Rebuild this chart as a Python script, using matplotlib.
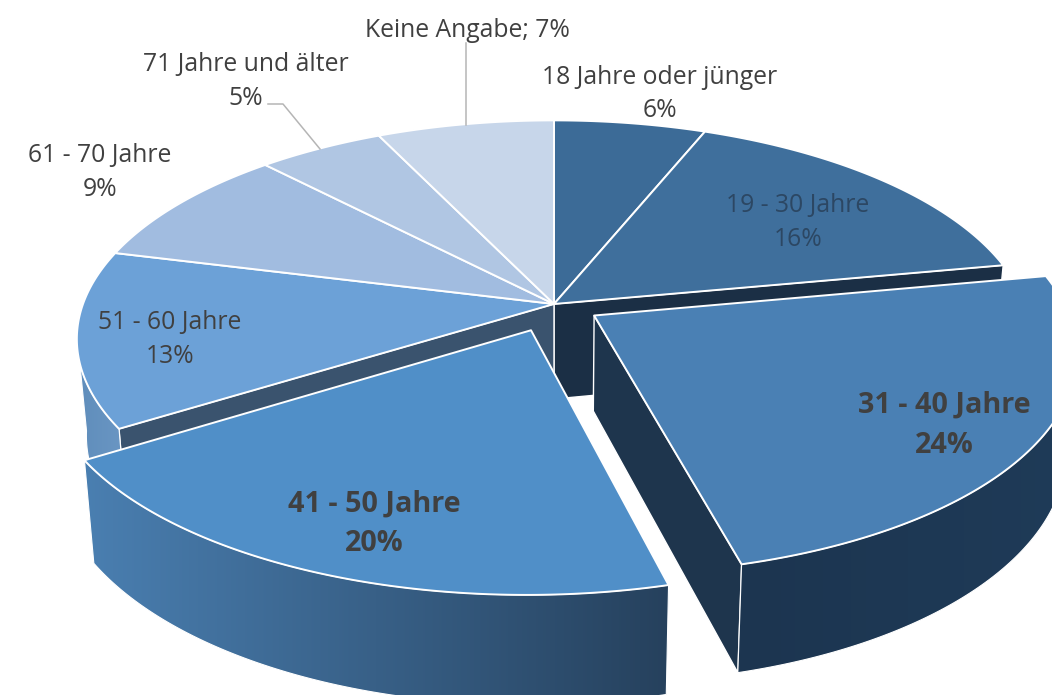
import numpy as np
import matplotlib
matplotlib.use("Agg")
import matplotlib.pyplot as plt
from matplotlib.patches import Polygon
from matplotlib.colors import to_rgb

categories = ["18 Jahre oder jünger", "19 - 30 Jahre", "31 - 40 Jahre", "41 - 50 Jahre",
              "51 - 60 Jahre", "61 - 70 Jahre", "71 Jahre und älter", "Keine Angabe"]
percent = [6, 16, 24, 20, 13, 9, 5, 7]
explode = [0, 0, 0.10, 0.13, 0, 0, 0, 0]
top_colors = ["#3c6b97", "#3f6f9c", "#4a80b4", "#508fc8", "#6ca1d7", "#a1bce0", "#b0c6e3", "#c7d6ea"]

CX, CY, RX, RY, PERSP, DEPTH, SHRINK = 554, 304, 471, 213, 0.16, 95, 0.98
TEXT = "#404040"

fig = plt.figure(figsize=(10.52, 6.95), dpi=100)
ax = fig.add_axes([0, 0, 1, 1])
ax.set_xlim(0, 1052)
ax.set_ylim(695, 0)
ax.axis("off")

edges = np.concatenate([[0], np.cumsum(percent)]) * 3.6


def offset(i):
    mid = np.radians((edges[i] + edges[i + 1]) / 2)
    return explode[i] * np.sin(mid), explode[i] * np.cos(mid)


def project(X, Y, bottom=False):
    X, Y = np.asarray(X, float), np.asarray(Y, float)
    w = 1 + PERSP * Y
    x, y = RX * X / w, -RY * Y / w
    if bottom:
        return CX + SHRINK * x, CY + SHRINK * y + DEPTH / w
    return CX + x, CY + y


def rim(i, a0, a1, n=120):
    t = np.radians(np.linspace(a0, a1, n))
    ox, oy = offset(i)
    return np.sin(t) + ox, np.cos(t) + oy


def top_face(i, z):
    X, Y = rim(i, edges[i], edges[i + 1])
    ox, oy = offset(i)
    px, py = project(np.r_[ox, X], np.r_[oy, Y])
    ax.add_patch(Polygon(np.c_[px, py], closed=True, fc=top_colors[i], ec="white", lw=1.4,
                         joinstyle="round", zorder=z))


def inner_wall(i, angle, color, z):
    ox, oy = offset(i)
    t = np.radians(angle)
    X, Y = np.array([ox, np.sin(t) + ox]), np.array([oy, np.cos(t) + oy])
    xt, yt = project(X, Y)
    xb, yb = project(X, Y, bottom=True)
    pts = np.c_[np.r_[xt, xb[::-1]], np.r_[yt, yb[::-1]]]
    ax.add_patch(Polygon(pts, closed=True, fc=color, ec="white", lw=1.0, zorder=z))


def outer_wall(i, a0, a1, c_left, c_right, z, n=90):
    X, Y = rim(i, a0, a1, n + 1)
    xt, yt = project(X, Y)
    xb, yb = project(X, Y, bottom=True)
    pts = np.c_[np.r_[xt, xb[::-1]], np.r_[yt, yb[::-1]]]
    x0, x1 = pts[:, 0].min(), pts[:, 0].max()
    y0, y1 = pts[:, 1].min(), pts[:, 1].max()
    ramp = np.linspace(0, 1, 256)[None, :, None]
    c0, c1 = np.array(to_rgb(c_left)), np.array(to_rgb(c_right))
    img = c0 + (c1 - c0) * ramp
    im = ax.imshow(img, extent=(x0, x1, y1, y0), aspect="auto", zorder=z, interpolation="bilinear")
    patch = Polygon(pts, closed=True, fc="none", ec="white", lw=0.8, zorder=z)
    ax.add_patch(patch)
    im.set_clip_path(patch)
    ax.set_xlim(0, 1052)
    ax.set_ylim(695, 0)


# non-exploded part
inner_wall(1, edges[2], "#1b2f45", 1)
inner_wall(4, edges[4], "#3a536e", 1)
outer_wall(4, edges[4], 262, "#5f8dbb", "#6b97c4", 1, n=30)
for i in (0, 1, 4, 5, 6, 7):
    top_face(i, 2)

# exploded slices
inner_wall(2, edges[3], "#1e354d", 3)
outer_wall(2, edges[3], 100, "#1c3550", "#1f3b58", 3)
top_face(2, 4)
outer_wall(3, edges[4], edges[3], "#4a7fb1", "#26415d", 5)
top_face(3, 6)

# leader lines
ax.plot([268, 283, 320], [104, 104, 149], color="#b5b5b5", lw=1.1, zorder=7)
ax.plot([465.5, 465.5], [43, 125], color="#b5b5b5", lw=1.1, zorder=7)


def label(x, y, s, size=17.8, weight="normal", color=TEXT):
    ax.text(x, y + 1.5, s, ha="center", va="center", fontsize=size, fontweight=weight, color=color,
            family="Open Sans", zorder=8)


BLUE_TEXT = "#2c4763"
pct = [f"{p}%" for p in percent]
label(660, 76, categories[0]); label(660, 109, pct[0])
label(798, 204, categories[1], color=BLUE_TEXT); label(798, 238, pct[1], color=BLUE_TEXT)
label(944, 404, categories[2], 20.7, "bold"); label(944, 444, pct[2], 20.7, "bold")
label(374, 503, categories[3], 20.7, "bold"); label(374, 542, pct[3], 20.7, "bold")
label(170, 321, categories[4]); label(170, 355, pct[4])
label(100, 154, categories[5]); label(100, 188, pct[5])
label(246, 63, categories[6]); label(246, 97, pct[6])
label(467, 29, f"{categories[7]}; {pct[7]}")

fig.savefig("out.png", dpi=100)
